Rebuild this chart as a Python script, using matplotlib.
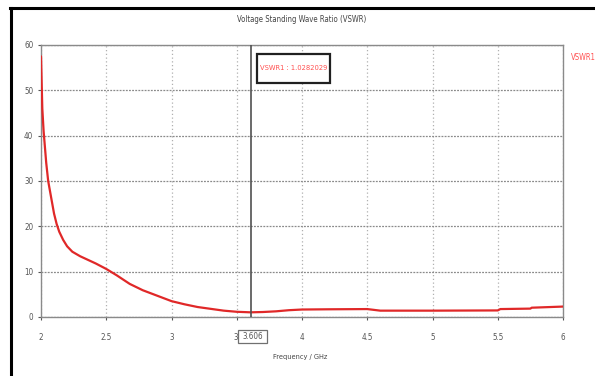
import matplotlib
matplotlib.use("Agg")
import matplotlib.pyplot as plt
from matplotlib.patches import Rectangle
from matplotlib.lines import Line2D

# VSWR trace (frequency in GHz)
freq = [2.00, 2.01, 2.02, 2.04, 2.055, 2.08, 2.10, 2.12, 2.14, 2.17, 2.20, 2.24,
        2.30, 2.36, 2.42, 2.50, 2.58, 2.68, 2.78, 2.89, 3.00, 3.10, 3.20, 3.30,
        3.40, 3.50, 3.606, 3.70, 3.80, 3.90, 4.00, 4.20, 4.50, 4.60, 5.00, 5.50,
        5.52, 5.75, 5.76, 6.00]
vswr = [57.5, 46.0, 41.0, 34.0, 30.0, 26.0, 22.8, 20.5, 18.8, 17.0, 15.6, 14.4,
        13.4, 12.6, 11.8, 10.6, 9.2, 7.3, 5.9, 4.7, 3.5, 2.8, 2.2, 1.8,
        1.4, 1.15, 1.03, 1.1, 1.25, 1.5, 1.65, 1.7, 1.75, 1.4, 1.4, 1.45,
        1.75, 1.85, 2.05, 2.3]

x_ticks = [2, 2.5, 3, 3.5, 4, 4.5, 5, 5.5, 6]
x_tick_labels = ["2", "2.5", "3", "3.", "4", "4.5", "5", "5.5", "6"]
y_ticks = [0, 10, 20, 30, 40, 50, 60]

marker_freq = 3.606
marker_value = 1.0282029
trace_name = "VSWR1"

plt.rcParams['font.family'] = ['DejaVu Sans']
plt.rcParams['font.stretch'] = 'condensed'

fig = plt.figure(figsize=(5.95, 3.76), dpi=100)
W, H = 595, 376
ax = fig.add_axes([41 / W, 1 - 317 / H, (563 - 41) / W, (317 - 45) / H])

ax.plot(freq, vswr, color="#e02828", lw=1.6, solid_capstyle="round", zorder=3)

ax.set_xlim(2, 6)
ax.set_ylim(0, 60)
ax.set_xticks(x_ticks)
ax.set_xticklabels(x_tick_labels)
ax.set_yticks(y_ticks)
ax.tick_params(axis="both", labelsize=5.8, colors="#555555", length=2.5, width=0.8,
               direction="out")
ax.tick_params(axis="x", pad=9)
ax.tick_params(axis="y", pad=3)

# grid: vertical dotted light, horizontal dotted darker
ax.xaxis.grid(True, color="#b0b0b0", linestyle=(0, (1, 2)), lw=0.9)
ax.yaxis.grid(True, color="#8a8a8a", linestyle=(0, (1.5, 1)), lw=0.9)
ax.set_axisbelow(True)
for s in ax.spines.values():
    s.set_color("#8a8a8a")
    s.set_linewidth(1.0)

# marker line
ax.axvline(marker_freq, color="#505050", lw=1.2, zorder=4)

# marker readout box
fig.patches.append(Rectangle((257 / W, 1 - 83 / H), 73 / W, 29 / H,
                             transform=fig.transFigure, facecolor="white",
                             edgecolor="#202020", lw=1.6, zorder=5))
fig.text(293.5 / W, 1 - 68.5 / H, f"{trace_name} : {marker_value:.7f}",
         color="#ff5050", fontsize=5.4, ha="center", va="center", zorder=6)

# marker frequency label on the x axis
fig.patches.append(Rectangle((238 / W, 1 - 343 / H), 29 / W, 13 / H,
                             transform=fig.transFigure, facecolor="white",
                             edgecolor="#707070", lw=0.9, zorder=5))
fig.text(252.5 / W, 1 - 336.5 / H, f"{marker_freq:.3f}", color="#555555",
         fontsize=5.8, ha="center", va="center", zorder=6)

# trace name at right
fig.text(571 / W, 1 - 58 / H, trace_name, color="#ff5050", fontsize=5.5,
         ha="left", va="center")

# title and axis label
fig.text(302 / W, 1 - 20 / H, "Voltage Standing Wave Ratio (VSWR)",
         color="#444444", fontsize=5.6, ha="center", va="center")
fig.text(300 / W, 1 - 357 / H, "Frequency / GHz", color="#444444",
         fontsize=5.3, ha="center", va="center")

# outer frame (top and left edges)
fig.lines.append(Line2D([10 / W, 1], [1 - 8 / H, 1 - 8 / H], transform=fig.transFigure,
                        color="black", lw=2.2))
fig.lines.append(Line2D([11 / W, 11 / W], [0, 1 - 8 / H], transform=fig.transFigure,
                        color="black", lw=2.2))

fig.savefig("out.png", dpi=100, facecolor="white")
